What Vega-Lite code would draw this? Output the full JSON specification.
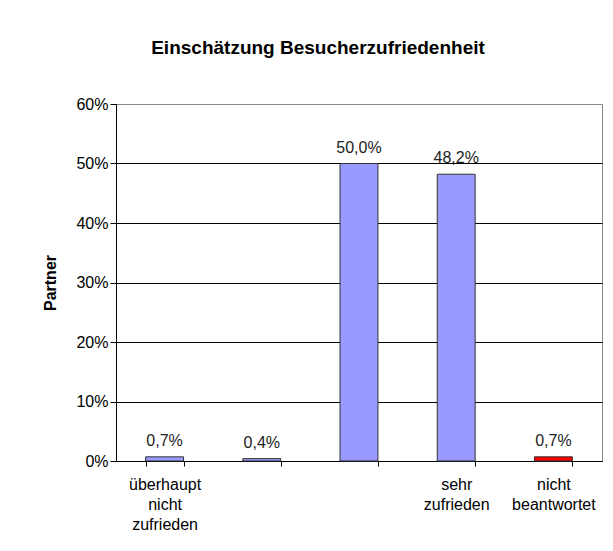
{
  "$schema": "https://vega.github.io/schema/vega-lite/v6.json",
  "width": 486,
  "height": 357,
  "autosize": {"type": "none"},
  "padding": {"left": 116, "top": 104, "right": 11, "bottom": 90},
  "background": "white",
  "title": {
    "text": "Einschätzung Besucherzufriedenheit",
    "font": "Liberation Sans",
    "fontSize": 19,
    "fontWeight": "bold",
    "color": "black",
    "anchor": "middle",
    "dx": -41,
    "offset": 38
  },
  "data": {
    "values": [
      {"kategorie": "überhaupt|nicht|zufrieden", "anteil": 0.007},
      {"kategorie": "k2", "anteil": 0.004},
      {"kategorie": "k3", "anteil": 0.5},
      {"kategorie": "sehr|zufrieden", "anteil": 0.482},
      {"kategorie": "nicht|beantwortet", "anteil": 0.007}
    ]
  },
  "encoding": {
    "x": {
      "field": "kategorie",
      "type": "nominal",
      "sort": null,
      "scale": {"paddingInner": 0.61, "paddingOuter": 0.305},
      "axis": {
        "title": null,
        "labelAngle": 0,
        "labelExpr": "datum.label == 'k2' || datum.label == 'k3' ? '' : split(datum.label, '|')",
        "labelFont": "Liberation Sans",
        "labelFontSize": 16,
        "labelColor": "black",
        "labelLineHeight": 20,
        "labelPadding": 10,
        "labelBaseline": "top",
        "tickBand": "extent",
        "tickSize": 5,
        "tickColor": "black",
        "domainColor": "black",
        "grid": false
      }
    },
    "y": {
      "field": "anteil",
      "type": "quantitative",
      "scale": {"domain": [0, 0.6]},
      "axis": {
        "title": "Partner",
        "titleFont": "Liberation Sans",
        "titleFontSize": 16,
        "titleFontWeight": "bold",
        "titleColor": "black",
        "titlePadding": 17,
        "values": [0, 0.1, 0.2, 0.3, 0.4, 0.5, 0.6],
        "format": ".0%",
        "labelFont": "Liberation Sans",
        "labelFontSize": 16,
        "labelColor": "black",
        "labelPadding": 2,
        "tickSize": 6,
        "tickColor": "black",
        "domainColor": "black",
        "grid": true,
        "gridColor": {"condition": {"test": "datum.value >= 0.6", "value": "#888888"}, "value": "black"},
        "gridOpacity": 1
      }
    }
  },
  "layer": [
    {
      "mark": {"type": "bar", "stroke": "#333333", "strokeWidth": 1},
      "encoding": {
        "color": {
          "condition": {"test": "datum.kategorie == 'nicht|beantwortet'", "value": "#FF0000"},
          "value": "#9999FF"
        }
      }
    },
    {
      "mark": {"type": "text", "baseline": "alphabetic", "dy": -11, "font": "Liberation Sans", "fontSize": 16, "color": "#222222"},
      "encoding": {
        "text": {"field": "anteil", "type": "quantitative", "format": ".1%"}
      }
    }
  ],
  "config": {
    "locale": {
      "number": {"decimal": ",", "thousands": ".", "grouping": [3], "currency": ["", " €"]}
    },
    "view": {"stroke": "#888888", "strokeWidth": 1}
  }
}
